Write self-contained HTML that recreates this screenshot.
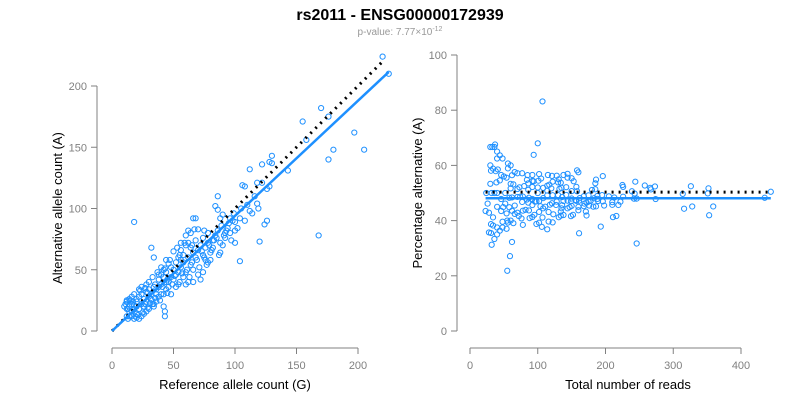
<!DOCTYPE html>
<html><head><meta charset="utf-8"><style>
body{margin:0;background:#fff}
svg{display:block;font-family:"Liberation Sans",sans-serif}
</style></head><body>
<svg id="c" width="800" height="400" viewBox="0 0 800 400">
<text x="400" y="20" text-anchor="middle" font-size="16" font-weight="bold" fill="#000">rs2011 - ENSG00000172939</text>
<text x="400" y="35" text-anchor="middle" font-size="10" fill="#999">p-value: 7.77×10<tspan dy="-4" font-size="7">-12</tspan></text>
<text transform="translate(62,208) rotate(-90)" text-anchor="middle" font-size="13" fill="#000">Alternative allele count (A)</text>
<text x="235" y="389" text-anchor="middle" font-size="13" fill="#000">Reference allele count (G)</text>
<text transform="translate(422,193) rotate(-90)" text-anchor="middle" font-size="13" fill="#000">Percentage alternative (A)</text>
<text x="628" y="389" text-anchor="middle" font-size="13" fill="#000">Total number of reads</text>
<g id="L"></g>
<g id="R"></g>
</svg>
<script>
const refCounts=[220,225,170,176,197,155,158,180,176,205,168,130,128,130,143,112,122,122,118,106,108,126,128,110,118,124,126,120,104,86,84,86,90,88,96,98,100,94,92,100,88,82,78,70,66,64,60,62,56,58,54,50,46,44,40,34,32,18,42,40,42,43,43,36,30,28,24,22,20,18,16,14,12,12,14,16,12,18,20,22,24,26,28,30,32,34,36,38,40,44,46,48,50,52,54,56,58,60,62,64,66,68,70,72,74,76,78,80,82,84,88,90,92,70,72,74,78,80,66,60,52,48,44,38,34,30,26,22,20,18,16,14,24,28,32,36,40,46,50,54,58,62,66,56,48,44,30,26,24,20,16,22,28,34,38,42,52,56,60,64,68,74,76,86,96,112,104,100,
10,11,12,13,15,17,19,21,23,25,27,29,31,33,35,37,39,41,43,45,47,49,51,53,55,57,59,61,63,65,67,69,71,73,75,77,79,81,83,85,87,89,91,93,95,97,99,102,105,108,114,116,119,20,18,14,13,27,29,33,35,45,55,65,75,38,42,62,68];
const altCounts=[224,210,182,175,162,171,156,148,140,148,78,143,138,137,131,132,121,136,121,119,118,116,118,103,104,87,90,73,57,110,102,99,95,92,92,90,89,84,80,72,64,68,80,83,92,80,78,72,72,62,60,65,55,58,52,60,68,89,44,38,20,16,12,30,40,32,36,28,24,30,22,26,24,18,16,12,12,10,14,18,22,20,24,28,26,22,34,42,46,48,40,44,50,46,38,52,56,48,40,54,50,60,66,70,62,68,72,64,74,78,72,70,76,46,42,48,56,58,40,38,36,30,34,28,20,18,14,10,20,18,16,20,12,16,30,24,30,36,42,48,44,60,64,58,52,40,34,26,30,26,28,34,38,36,46,50,56,66,70,68,74,76,58,82,80,98,92,82,
20,22,25,10,25,24,12,13,33,15,35,19,23,44,27,48,25,36,51,31,58,38,45,68,40,47,72,50,44,56,83,58,52,65,60,54,70,66,74,76,62,86,78,82,88,74,96,84,100,90,96,110,100,11,21,12,18,22,31,22,38,42,62,70,82,36,30,82,92];
const leftXTicks=[0,50,100,150,200];
const leftYTicks=[0,50,100,150,200];
const rightXTicks=[0,100,200,300,400];
const rightYTicks=[0,20,40,60,80,100];
const leftFitSlope=0.94, leftFitEndX=225, leftRefEndX=220;
const rightFitPct=48.1, rightRefPct=50.3;

const NS="http://www.w3.org/2000/svg";
function mk(p,t,a){const e=document.createElementNS(NS,t);for(const k in a)e.setAttribute(k,a[k]);p.appendChild(e);return e;}
const lx=v=>112+v*1.23, ly=v=>331-v*1.225;
const rx=v=>470+v*0.6775, ry=v=>331-v*2.76;
const G="#808080";
function axes(g,xf,yf,xt,yt,yAxX,xAxY,pfx){
  let a=mk(g,'line',{x1:yAxX,x2:yAxX,y1:yf(yt[yt.length-1]),y2:yf(yt[0]),stroke:G});
  
  yt.forEach(v=>{mk(g,'line',{x1:yAxX-6,x2:yAxX,y1:yf(v),y2:yf(v),stroke:G});
    const t=mk(g,'text',{x:yAxX-10,y:yf(v)+4,'text-anchor':'end','font-size':11,fill:G});t.textContent=v;
    });
  a=mk(g,'line',{x1:xf(xt[0]),x2:xf(xt[xt.length-1]),y1:xAxY,y2:xAxY,stroke:G});
  
  xt.forEach(v=>{mk(g,'line',{x1:xf(v),x2:xf(v),y1:xAxY,y2:xAxY+6,stroke:G});
    const t=mk(g,'text',{x:xf(v),y:xAxY+21,'text-anchor':'middle','font-size':11,fill:G});t.textContent=v;
    });
}
const L=document.getElementById('L'),R=document.getElementById('R');
axes(L,lx,ly,leftXTicks,leftYTicks,97,348,'left');
axes(R,rx,ry,rightXTicks,rightYTicks,457,348,'right');
refCounts.forEach((r,i)=>{const a=altCounts[i];
  let c=mk(L,'circle',{cx:lx(r),cy:ly(a),r:2.6,fill:'none',stroke:'#1E90FF','stroke-width':1});
  
  const tot=r+a;
  c=mk(R,'circle',{cx:rx(tot),cy:ry(a/tot*100),r:2.6,fill:'none',stroke:'#1E90FF','stroke-width':1});
  
});
let l=mk(L,'line',{x1:lx(0),y1:ly(0),x2:lx(leftRefEndX),y2:ly(leftRefEndX),stroke:'#000','stroke-width':3,'stroke-dasharray':'2,5'});

l=mk(L,'line',{x1:lx(0),y1:ly(0),x2:lx(leftFitEndX),y2:ly(leftFitEndX*leftFitSlope),stroke:'#1E90FF','stroke-width':2.5});

const tots=refCounts.map((r,i)=>r+altCounts[i]);
const tmin=Math.min(...tots),tmax=Math.max(...tots);
l=mk(R,'line',{x1:rx(tmin),y1:ry(rightRefPct),x2:rx(tmax),y2:ry(rightRefPct),stroke:'#000','stroke-width':3,'stroke-dasharray':'2,5'});

l=mk(R,'line',{x1:rx(tmin),y1:ry(rightFitPct),x2:rx(tmax),y2:ry(rightFitPct),stroke:'#1E90FF','stroke-width':2.5});

</script>
</body></html>
